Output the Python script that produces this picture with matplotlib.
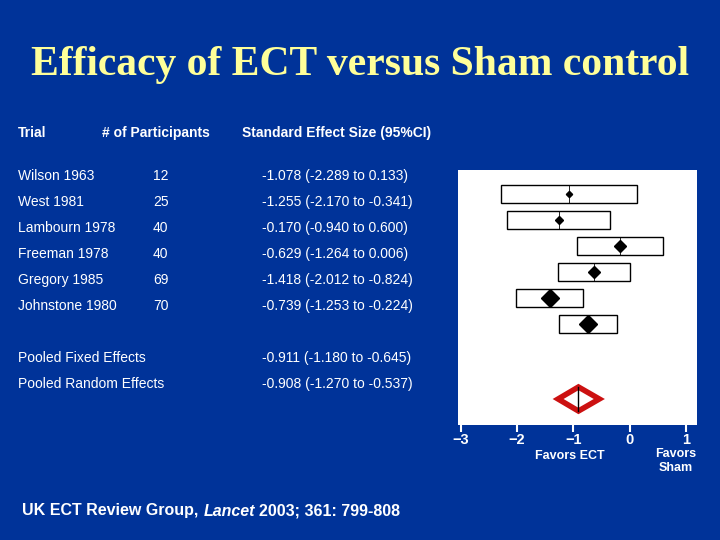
import matplotlib
matplotlib.use("Agg")
import matplotlib.pyplot as plt
from matplotlib.patches import Rectangle, Polygon

trials = ["Wilson 1963", "West 1981", "Lambourn 1978", "Freeman 1978", "Gregory 1985", "Johnstone 1980"]
n_part = [12, 25, 40, 40, 69, 70]
est = [-1.078, -1.255, -0.170, -0.629, -1.418, -0.739]
lo = [-2.289, -2.170, -0.940, -1.264, -2.012, -1.253]
hi = [0.133, -0.341, 0.600, 0.006, -0.824, -0.224]
pooled_names = ["Pooled Fixed Effects", "Pooled Random Effects"]
pooled_est = [-0.911, -0.908]
pooled_lo = [-1.180, -1.270]
pooled_hi = [-0.645, -0.537]
xticks = [-3, -2, -1, 0, 1]

bg = "#003399"
fig = plt.figure(figsize=(7.2, 5.4), dpi=100, facecolor=bg)
sans = ["Liberation Sans", "DejaVu Sans"]

fig.text(0.5, 0.88, "Efficacy of ECT versus Sham control", ha="center", va="center",
         color="#FFFF99", fontsize=30, fontweight="bold", family=["Liberation Serif", "DejaVu Serif"])

def ty(px):
    return 1 - px / 540

fs = 10
fig.text(18 / 720, ty(133), "Trial", color="white", fontsize=fs, fontweight="bold", family=sans, va="center")
fig.text(102 / 720, ty(133), "# of Participants", color="white", fontsize=fs, fontweight="bold", family=sans, va="center")
fig.text(242 / 720, ty(133), "Standard Effect Size (95%CI)", color="white", fontsize=fs, fontweight="bold", family=sans, va="center")

for i, name in enumerate(trials):
    y = ty(176 + 26 * i)
    fig.text(18 / 720, y, name, color="white", fontsize=fs, family=sans, va="center")
    fig.text(153 / 720, y, str(n_part[i]), color="white", fontsize=fs, family=sans, va="center")
    fig.text(262 / 720, y, f"{est[i]:.3f} ({lo[i]:.3f} to {hi[i]:.3f})", color="white",
             fontsize=fs, family=sans, va="center")
for j, name in enumerate(pooled_names):
    y = ty(358 + 26 * j)
    fig.text(18 / 720, y, name, color="white", fontsize=fs, family=sans, va="center")
    fig.text(262 / 720, y, f"{pooled_est[j]:.3f} ({pooled_lo[j]:.3f} to {pooled_hi[j]:.3f})",
             color="white", fontsize=fs, family=sans, va="center")

ax = fig.add_axes([458 / 720, 115 / 540, 239 / 720, 255 / 540])
ax.set_facecolor("white")
ax.set_xlim(-3.05, 1.2)
ax.set_ylim(425, 170)
for s in ax.spines.values():
    s.set_visible(False)
ax.set_yticks([])
ax.set_xticks(xticks)
ax.set_xticklabels(["\u22123", "\u22122", "\u22121", "0", "1"])
ax.tick_params(axis="x", colors="white", labelsize=10.5, length=5, width=1.5, pad=1)
for t in ax.get_xticklabels():
    t.set_fontweight("bold")
    t.set_family(sans)

for i in range(len(trials)):
    yc = 194 + 26 * i
    ax.add_patch(Rectangle((lo[i], yc - 9), hi[i] - lo[i], 18, fill=False, ec="black", lw=1))
    s = 2 + 7 * n_part[i] / 70
    ax.plot(est[i], yc, marker="D", color="black", ms=s)
    ax.plot([est[i], est[i]], [yc - 9, yc + 9], color="black", lw=0.6)

yc = 399
j = 1
ax.add_patch(Polygon([(pooled_lo[j], yc), (pooled_est[j], yc - 12), (pooled_hi[j], yc), (pooled_est[j], yc + 12)],
                     closed=True, fill=False, ec="#CC1111", lw=4))
ax.plot([pooled_est[j], pooled_est[j]], [yc - 12, yc + 12], color="black", lw=1)

fig.text(570 / 720, ty(456), "Favors ECT", color="white", fontsize=9, fontweight="bold", family=sans, ha="center", va="center")
fig.text(676 / 720, ty(461), "Favors\nSham", color="white", fontsize=9, fontweight="bold", family=sans, ha="center", va="center")

fig.text(22 / 720, ty(511), "UK ECT Review Group, ", color="white", fontsize=11.5, fontweight="bold", family=sans, va="center")
fig.text(204 / 720, ty(511), "Lancet", color="white", fontsize=11.5, fontweight="bold", style="italic", family=sans, va="center")
fig.text(259 / 720, ty(511), "2003; 361: 799-808", color="white", fontsize=11.5, fontweight="bold", family=sans, va="center")

fig.savefig("out.png", dpi=100, facecolor=bg)
